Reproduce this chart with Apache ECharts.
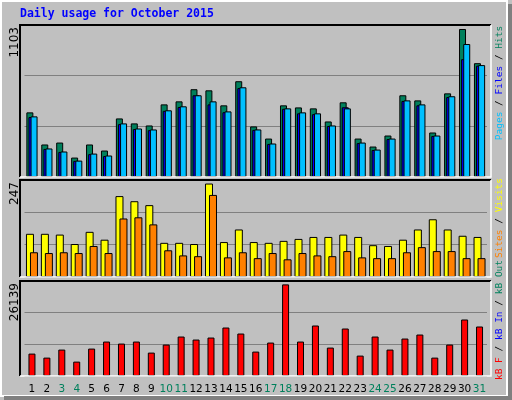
<!DOCTYPE html>
<html><head><meta charset="utf-8">
<script src="https://cdn.jsdelivr.net/npm/echarts@6/dist/echarts.min.js"></script>
<style>html,body{margin:0;padding:0;background:#c0c0c0}#c{width:512px;height:400px}</style>
</head><body><div id="c"></div>
<script>
const days = Array.from({length:31},(_,i)=>String(i+1));
const weekend = ['3','4','10','11','17','18','24','25','31'];
const hits  = [469,236,250,141,236,192,425,389,374,527,549,637,629,520,695,367,279,520,505,498,403,542,279,221,301,593,556,323,607,1074,826];
const files = [435,204,182,117,166,152,384,348,340,480,508,593,527,470,645,342,240,495,462,456,370,506,246,196,276,552,520,298,580,855,808];
const pages = [440,207,185,119,170,156,389,352,345,484,513,593,549,476,651,345,243,498,469,462,374,498,250,199,279,556,527,301,586,965,812];
const visits= [110,110,108,84,115,95,206,193,183,87,87,84,238,89,121,89,87,92,97,102,102,108,102,81,79,95,121,147,121,105,102];
const sites = [63,61,63,61,79,61,149,152,134,68,55,53,209,50,63,48,61,45,61,55,53,66,50,48,48,63,76,66,66,48,48];
const kbytes= [6164,5060,7268,3956,7544,9476,8924,9476,6440,8648,10856,10028,10580,13340,11684,6716,9200,25208,9476,13892,7820,13064,5612,10856,7268,10304,11408,5060,8648,15548,13616];
const maxTop=1103, maxMid=247, maxBot=26139;

const ch = echarts.init(document.getElementById('c'));
const L=24.5, W=462.5;
const panels=[[25,177],[180,277],[281,376]];
const grids=panels.map(p=>({left:L,width:W,top:p[0],height:p[1]-p[0]}));
const xAxes=[0,1,2].map(i=>({type:'category',gridIndex:i,data:days,axisLine:{show:false},axisTick:{show:false},
  axisLabel:{show:i===2,interval:0,margin:8,fontFamily:'DejaVu Sans',fontSize:10.5,
    formatter:v=>weekend.includes(v)?'{w|'+v+'}':'{n|'+v+'}',
    rich:{w:{color:'#00805c',fontFamily:'DejaVu Sans',fontSize:10.5},n:{color:'#000',fontFamily:'DejaVu Sans',fontSize:10.5}}}}));
const yAxes=[maxTop,maxMid,maxBot].map((m,i)=>({type:'value',gridIndex:i,min:0,max:m,interval:m/3,
  axisLabel:{show:false},axisLine:{show:false},axisTick:{show:false},splitLine:{lineStyle:{color:'#808080',width:1}}}));
const bs=(name,data,color,xi,w,gap)=>({type:'bar',name,data,xAxisIndex:xi,yAxisIndex:xi,barWidth:w,barGap:gap,
  itemStyle:{color,borderColor:'#000',borderWidth:1},animation:false});
const series=[
  bs('Hits',hits,'#00805c',0,7,'-70%'),
  bs('Files',files,'#0000ff',0,7,'-70%'),
  bs('Pages',pages,'#00c0ff',0,7,'-70%'),
  bs('Visits',visits,'#ffff00',1,8,'-50%'),
  bs('Sites',sites,'#ff8000',1,8,'-50%'),
  bs('kB',kbytes,'#ff0000',2,7,'0%')
];
const mono='DejaVu Sans Mono';
const g=[
  {type:'rect',shape:{x:0,y:0,width:512,height:400},style:{fill:'#c0c0c0'},z:-10},
  {type:'rect',shape:{x:1,y:1,width:506,height:395},style:{fill:'none',stroke:'#fff',lineWidth:2},z:-9},
  {type:'rect',shape:{x:508,y:4,width:4,height:396},style:{fill:'#808080'},z:-9},
  {type:'rect',shape:{x:4,y:396,width:508,height:4},style:{fill:'#808080'},z:-9},
  {type:'text',left:20,top:8,style:{text:'Daily usage for October 2015',fill:'#0000ff',font:'bold 11.5px '+mono}}
];
panels.forEach(p=>{
  g.push({type:'polyline',shape:{points:[[20,p[1]],[20,p[0]],[491,p[0]]]},style:{stroke:'#000',lineWidth:2,fill:'none'},z:5});
  g.push({type:'polyline',shape:{points:[[491,p[0]],[491,p[1]],[20,p[1]]]},style:{stroke:'#fff',lineWidth:1.5,fill:'none'},z:5});
});
[['1103',25],['247',180],['26139',281]].forEach(([t,y])=>{
  g.push({type:'text',x:15,y:y+2,rotation:Math.PI/2,style:{text:t,fill:'#000',font:'12px DejaVu Sans',align:'right',verticalAlign:'middle'}});
});
const F='9.5px '+mono;
const rl=(y,parts)=>({type:'text',x:500,y,rotation:Math.PI/2,style:{
  text:parts.map((p,i)=>'{s'+i+'|'+p[0]+'}').join(''),align:'center',verticalAlign:'middle',font:F,
  rich:Object.fromEntries(parts.map((p,i)=>['s'+i,{fill:p[1],font:F}]))}});
g.push(rl(83,[['Pages','#00c0ff'],[' / ','#000'],['Files','#0000ff'],[' / ','#000'],['Hits','#00805c']]));
g.push(rl(218,[['Sites','#ff8000'],[' / ','#000'],['Visits','#ffff00']]));
g.push(rl(320,[['kB F','#ff0000'],[' / ','#000'],['kB In','#0000ff'],[' / ','#000'],['kB Out','#00805c']]));
ch.setOption({animation:false,backgroundColor:'#c0c0c0',grid:grids,xAxis:xAxes,yAxis:yAxes,series,graphic:g});
</script></body></html>
